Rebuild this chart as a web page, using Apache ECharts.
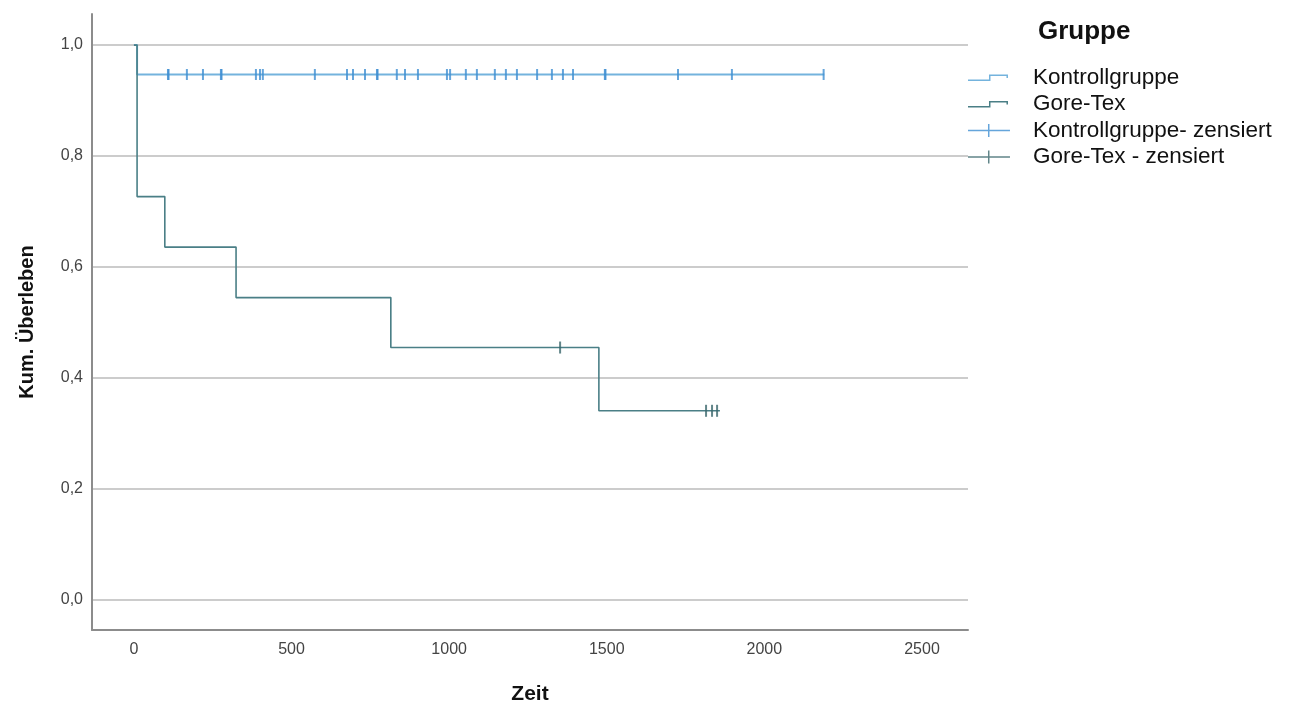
<!DOCTYPE html>
<html>
<head>
<meta charset="utf-8">
<script src="https://cdn.jsdelivr.net/npm/echarts@6/dist/echarts.min.js"></script>
<style>html,body{margin:0;padding:0;background:#fff}#c{width:1291px;height:706px}</style>
</head>
<body>
<div id="c"></div>
<script>
// Data
const xTicks = [0, 500, 1000, 1500, 2000, 2500];
const yTicks = [0, 0.2, 0.4, 0.6, 0.8, 1.0];

const kontrollTimes = [0, 10, 2190];
const kontrollSurv  = [1.0, 0.947, 0.947];
const kontrollCensorTimes = [108, 110, 168, 219, 276, 278, 387, 400, 409, 574, 676, 695, 733, 771, 773, 834, 860, 901, 993, 1003, 1053, 1088, 1145, 1180, 1215, 1279, 1326, 1361, 1393, 1494, 1496, 1726, 1897, 2188];
const kontrollCensorSurv  = [0.947, 0.947, 0.947, 0.947, 0.947, 0.947, 0.947, 0.947, 0.947, 0.947, 0.947, 0.947, 0.947, 0.947, 0.947, 0.947, 0.947, 0.947, 0.947, 0.947, 0.947, 0.947, 0.947, 0.947, 0.947, 0.947, 0.947, 0.947, 0.947, 0.947, 0.947, 0.947, 0.947, 0.947];

const goreTimes = [0, 10, 98, 324, 815, 1475, 1859];
const goreSurv  = [1.0, 0.727, 0.636, 0.545, 0.455, 0.341, 0.341];
const goreCensorTimes = [1352, 1815, 1834, 1850];
const goreCensorSurv  = [0.455, 0.341, 0.341, 0.341];

const names = ['Kontrollgruppe', 'Gore-Tex', 'Kontrollgruppe- zensiert', 'Gore-Tex - zensiert'];

const zip = (a, b) => a.map((v, i) => [v, b[i]]);
const pad = ' M0,0 h0.01 v0.01 h-0.01 z M60,14 h0.01 v0.01 h-0.01 z';
const stepIcon = 'path://M0,9 h22 v1.5 h-22 z M21,4 h1.5 v6.5 h-1.5 z M21,4 h19 v1.5 h-19 z M38.5,4 h1.5 v3.5 h-1.5 z' + pad;
const crossIcon = 'path://M0,6.25 h42 v1.5 h-42 z M20,0.5 h1.5 v13 h-1.5 z' + pad;

const chart = echarts.init(document.getElementById('c'), null, {renderer: 'canvas'});
chart.setOption({
  animation: false,
  backgroundColor: '#ffffff',
  title: {
    text: 'Gruppe', left: 1033, top: 14,
    textStyle: {fontFamily: 'Liberation Sans', fontSize: 26, fontWeight: 'bold', color: '#111', lineHeight: 26}
  },
  legend: {
    orient: 'vertical', left: 963, top: 61,
    itemWidth: 60, itemHeight: 14, itemGap: 3.5,
    textStyle: {fontFamily: 'Liberation Sans', fontSize: 22.5, color: '#111', lineHeight: 22},
    data: [
      {name: names[0], icon: stepIcon},
      {name: names[1], icon: stepIcon},
      {name: names[2], icon: crossIcon},
      {name: names[3], icon: crossIcon}
    ]
  },
  grid: {left: 92, right: 323, top: 14, bottom: 76, containLabel: false, outerBoundsMode: 'none'},
  xAxis: {
    type: 'value', min: -133, max: 2646,
    name: 'Zeit', nameLocation: 'middle', nameGap: 54,
    nameTextStyle: {fontFamily: 'Liberation Sans', fontSize: 21, fontWeight: 'bold', color: '#111'},
    axisLine: {show: true, onZero: false, lineStyle: {color: '#8c8c8c', width: 2}},
    axisTick: {show: false, customValues: xTicks},
    axisLabel: {customValues: xTicks, margin: 12, fontFamily: 'Liberation Sans', fontSize: 16, color: '#444',
      formatter: v => String(v)},
    splitLine: {show: false}
  },
  yAxis: {
    type: 'value', min: -0.054, max: 1.056,
    name: 'Kum. Überleben', nameLocation: 'middle', nameGap: 55,
    nameTextStyle: {fontFamily: 'Liberation Sans', fontSize: 20, fontWeight: 'bold', color: '#111'},
    axisLine: {show: true, onZero: false, lineStyle: {color: '#8c8c8c', width: 2}},
    axisTick: {show: false, customValues: yTicks},
    axisLabel: {customValues: yTicks, margin: 9, fontFamily: 'Liberation Sans', fontSize: 16, color: '#444',
      formatter: v => v.toFixed(1).replace('.', ',')},
    splitLine: {show: true, lineStyle: {color: '#cccccc', width: 2}}
  },
  series: [
    {
      name: names[0], type: 'line', step: 'end', symbol: 'none',
      data: zip(kontrollTimes, kontrollSurv),
      itemStyle: {color: '#74b3dd'},
      lineStyle: {color: '#74b3dd', width: 2}, z: 2
    },
    {
      name: names[1], type: 'line', step: 'end', symbol: 'none',
      data: zip(goreTimes, goreSurv),
      itemStyle: {color: '#4a7f86'},
      lineStyle: {color: '#4a7f86', width: 1.6}, z: 3
    },
    {
      name: names[2], type: 'scatter', symbol: 'rect', symbolSize: [2, 11],
      data: zip(kontrollCensorTimes, kontrollCensorSurv),
      itemStyle: {color: '#3f8fd2'}, z: 4
    },
    {
      name: names[3], type: 'scatter', symbol: 'rect', symbolSize: [2, 12],
      data: zip(goreCensorTimes, goreCensorSurv),
      itemStyle: {color: '#3a666c'}, z: 4
    }
  ]
});
</script>
</body>
</html>
